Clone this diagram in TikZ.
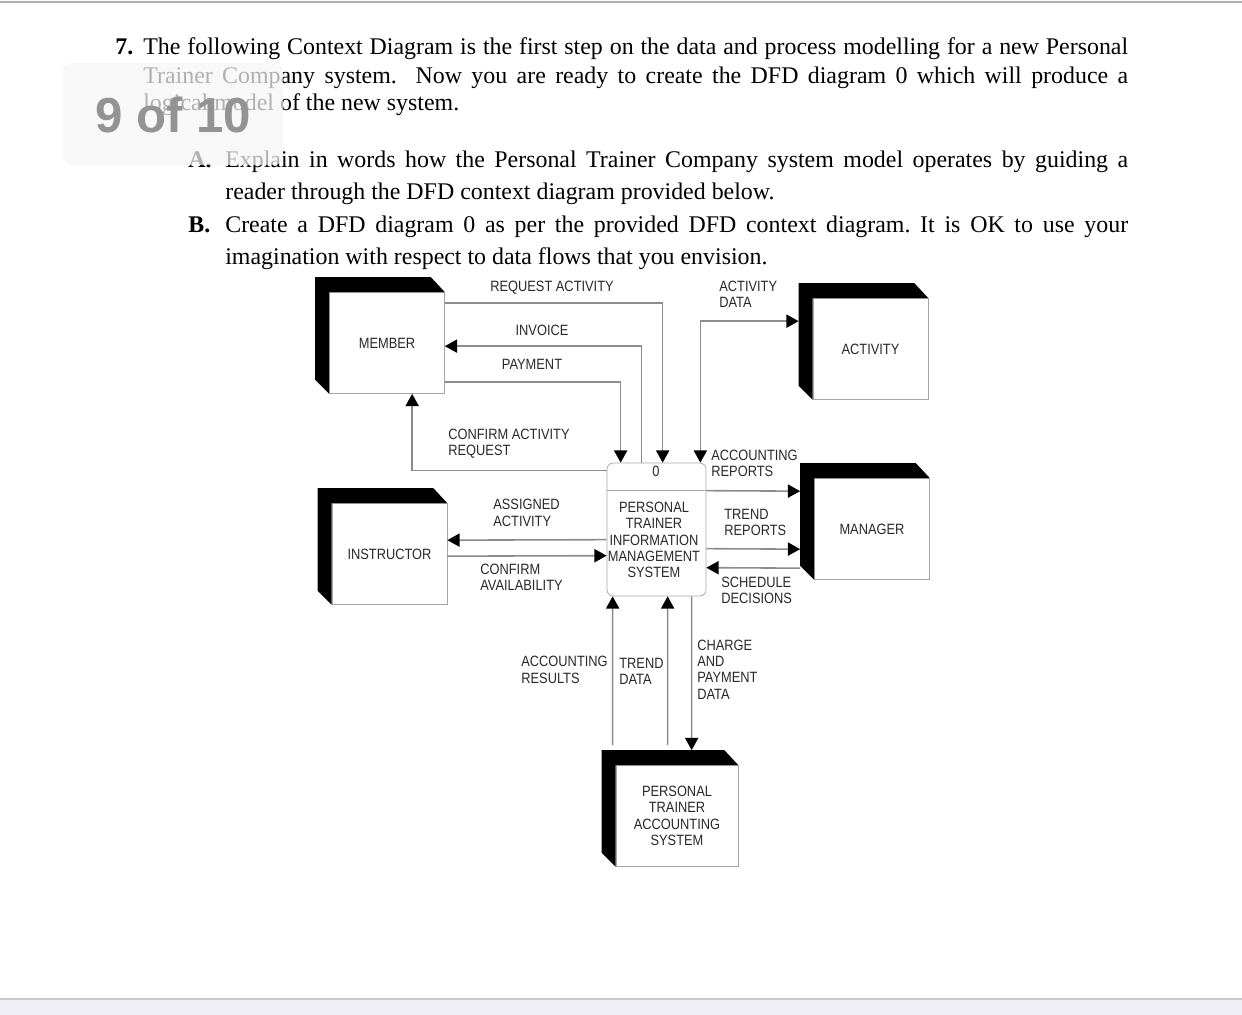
\documentclass[tikz,border=0pt]{standalone}
\usepackage{fontspec}
\setmainfont{Liberation Serif}
\newfontfamily\dfdfont[FakeStretch=0.86]{Liberation Sans}
\newfontfamily\badgefont{Liberation Sans}
\usepackage{tikz}
\usetikzlibrary{arrows.meta,positioning,calc}

\definecolor{flowgray}{RGB}{140,140,140}
\definecolor{labelgray}{RGB}{40,40,40}
\definecolor{pageline}{RGB}{175,175,182}
\definecolor{pageband}{RGB}{240,239,245}

\begin{document}
\frenchspacing
\begin{tikzpicture}[
  x=0.02cm, y=-0.02cm,
  qtext/.style={anchor=base west, inner sep=0pt, font=\fontsize{13.6}{16}\selectfont},
  entity/.style={draw=gray!70, fill=white, minimum width=2.3cm, minimum height=2.02cm, inner sep=0pt,
    font=\dfdfont\fontsize{8.5}{9.3}\selectfont, text=labelgray, align=center},
  process/.style={draw=gray!70, rounded corners=3.5pt, minimum width=1.98cm, minimum height=2.66cm, inner sep=0pt},
  flowlabel/.style={font=\dfdfont\fontsize{8.5}{9.3}\selectfont, text=labelgray, inner sep=0pt, align=left},
  flow/.style={draw=flowgray, line width=0.9pt, -{Triangle[length=7pt,width=7.5pt,color=black,fill=black]}},
  badge/.style={fill=gray!8, fill opacity=0.72, rounded corners=5pt, minimum width=4.4cm, minimum height=2.04cm},
]
\useasboundingbox (0,0) rectangle (1242,1015);

% Page edges
\draw[pageline, line width=1.2pt] (0,2) -- (1242,2);
\fill[pageband] (0,999) rectangle (1242,1015);
\draw[pageline!70, line width=0.8pt] (0,999) -- (1242,999);

% Question text
\node[qtext] (q7) at (115,54) {\textbf{7.}};
\node[qtext] (l1) at (143,54) {\makebox[19.7cm][s]{The following Context Diagram is the first step on the data and process modelling for a new Personal}};
\node[qtext] (l2) at (143,83) {\makebox[19.7cm][s]{Trainer Company system.\ \ Now you are ready to create the DFD diagram 0 which will produce a}};
\node[qtext] (l3) at (143,110) {logical model of the new system.};
\node[qtext] (qa) at (188,167) {\textbf{A.}};
\node[qtext] (a1) at (225,167) {\makebox[18.06cm][s]{Explain in words how the Personal Trainer Company system model operates by guiding a}};
\node[qtext] (a2) at (225,199) {reader through the DFD context diagram provided below.};
\node[qtext] (qb) at (188,232) {\textbf{B.}};
\node[qtext] (b1) at (225,232) {\makebox[18.06cm][s]{Create a DFD diagram 0 as per the provided DFD context diagram. It is OK to use your}};
\node[qtext] (b2) at (225,264) {imagination with respect to data flows that you envision.};

% Page counter overlay
\node[badge] (badge) at (173,114) {};
\node[inner sep=0pt, text=gray!85, font=\badgefont\bfseries\fontsize{28}{30}\selectfont] (pagecount) at (173,115) {9 of 10};

% External entities
\node[entity] (member) at (387,343) {MEMBER};
\node[entity] (activity) at (870.5,349) {ACTIVITY};
\node[entity] (manager) at (872,529) {MANAGER};
\node[entity] (instructor) at (389.5,554) {INSTRUCTOR};
\node[entity, minimum width=2.44cm] (acct) at (677,816) {PERSONAL\\TRAINER\\ACCOUNTING\\SYSTEM};

% 3D shading of the entities
\foreach \e in {member,activity,manager,instructor,acct}
  \fill[black] (\e.south west) -- ++(-14,-14) -- ($(\e.north west)+(-14,-15)$)
    -- ($(\e.north east)+(-14,-15)$) -- (\e.north east) -- (\e.north west) -- cycle;

% Process 0
\node[process] (proc) at (656.5,529.5) {};
\draw[draw=gray!70] ($(proc.north west)+(0,28)$) -- ($(proc.north east)+(0,28)$);
\node[flowlabel] (procid) at (656,471) {0};
\node[flowlabel, align=center] (procname) at (654,540) {PERSONAL\\TRAINER\\INFORMATION\\MANAGEMENT\\SYSTEM};

% Flows with the member
\draw[flow] ($(member.north east)+(0,11)$) -| ($(proc.north west)+(56,0)$);
\draw[flow] ($(proc.north west)+(35,0)$) |- ($(member.north east)+(0,54)$);
\draw[flow] ($(member.south east)+(0,-12)$) -| ($(proc.north west)+(14,0)$);
\draw[flow] ($(proc.north west)+(0,8)$) -| ($(member.south west)+(83,0)$);

% Flows with activity and manager
\draw[flow, {Triangle[length=7pt,width=7.5pt,color=black,fill=black]}-{Triangle[length=7pt,width=7.5pt,color=black,fill=black]}]
  ($(proc.north east)+(-6,0)$) |- ($(activity.north west)+(-14,23)$);
\draw[flow] ($(proc.north east)+(0,28)$) -- ($(manager.north west)+(-14,13)$);
\draw[flow] ($(proc.north east)+(0,86)$) -- ($(manager.north west)+(-14,71)$);
\draw[flow] ($(manager.north west)+(-14,90)$) -- ($(proc.north east)+(0,105)$);

% Flows with the instructor
\draw[flow] ($(proc.north west)+(0,77)$) -- ($(instructor.north east)+(0,37)$);
\draw[flow] ($(instructor.north east)+(0,53)$) -- ($(proc.north west)+(0,93)$);

% Flows with the accounting system
\draw[flow] ($(acct.north west)+(-3,-20)$) -- ($(proc.south west)+(6,0)$);
\draw[flow] ($(acct.north west)+(52,-20)$) -- ($(proc.south west)+(61,0)$);
\draw[flow] ($(proc.south west)+(85,0)$) -- ($(acct.north west)+(76,-15)$);

% Flow labels
\node[flowlabel] (reqlbl) at (552,288) {REQUEST ACTIVITY};
\node[flowlabel] (invlbl) at (542,330) {INVOICE};
\node[flowlabel] (paylbl) at (532,364) {PAYMENT};
\node[flowlabel, anchor=west] (conflbl) at (448,444) {CONFIRM ACTIVITY\\REQUEST};
\node[flowlabel, anchor=west] (actlbl) at (719,294.5) {ACTIVITY\\DATA};
\node[flowlabel, anchor=west] (acrlbl) at (711,463.5) {ACCOUNTING\\REPORTS};
\node[flowlabel, anchor=west] (trrlbl) at (724,522.5) {TREND\\REPORTS};
\node[flowlabel, anchor=west] (schlbl) at (721,590.5) {SCHEDULE\\DECISIONS};
\node[flowlabel, anchor=west] (asglbl) at (493,513) {ASSIGNED\\ACTIVITY};
\node[flowlabel, anchor=west] (avllbl) at (480,577.5) {CONFIRM\\AVAILABILITY};
\node[flowlabel, anchor=west] (acslbl) at (521,670) {ACCOUNTING\\RESULTS};
\node[flowlabel, anchor=west] (trdlbl) at (619,671.5) {TREND\\DATA};
\node[flowlabel, anchor=west] (chglbl) at (697,669.5) {CHARGE\\AND\\PAYMENT\\DATA};

\end{tikzpicture}
\end{document}
